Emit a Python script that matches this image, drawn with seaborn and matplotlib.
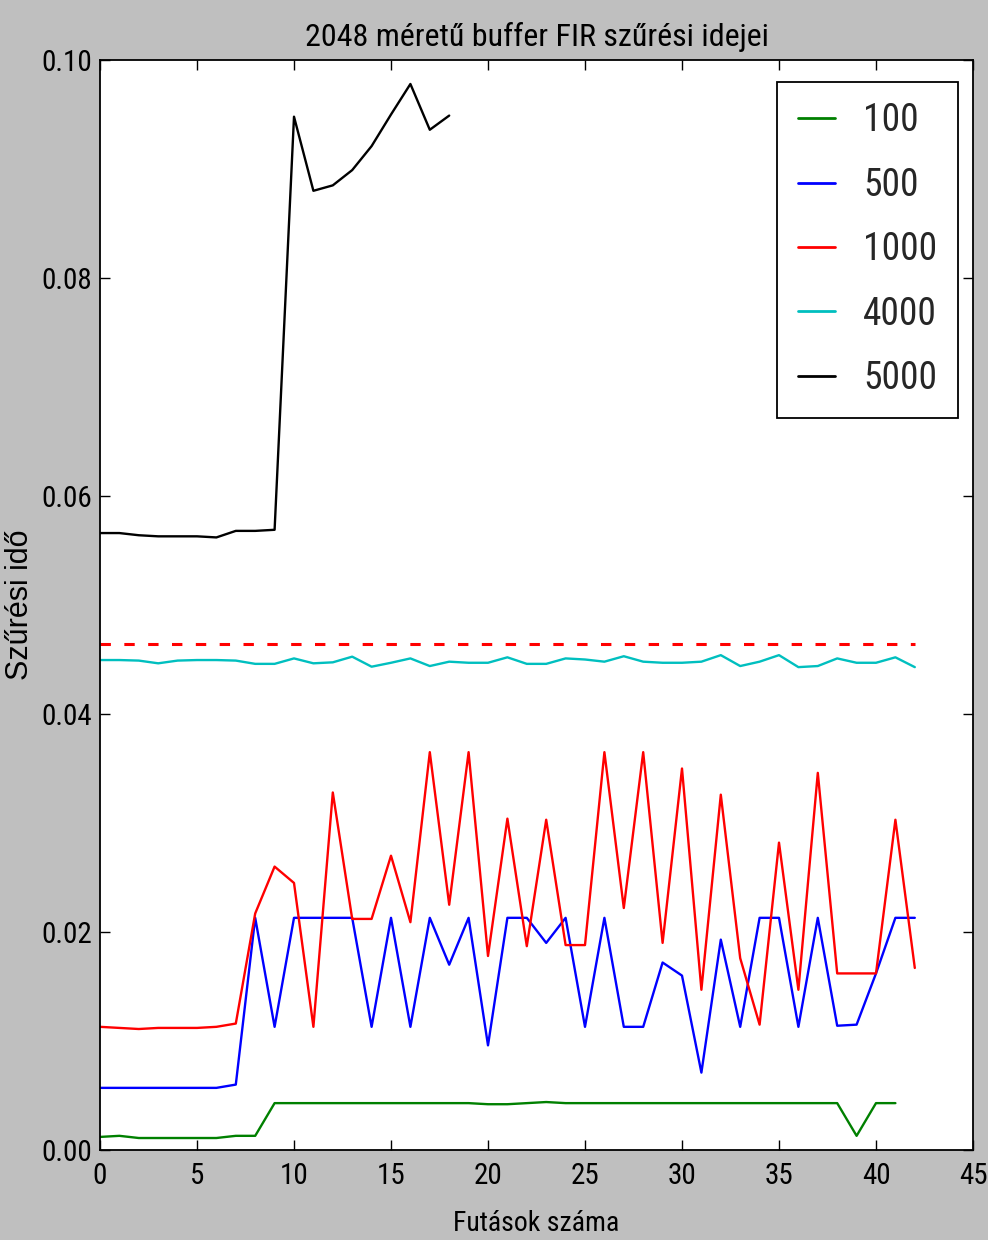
import pandas as pd
import matplotlib
matplotlib.use("Agg")
import matplotlib.pyplot as plt
import seaborn as sns

# measured filter times (seconds) per run, one list per filter length
runs_100 = [0.0012, 0.0013, 0.0011, 0.0011, 0.0011, 0.0011, 0.0011, 0.0013, 0.0013, 0.0043,
            0.0043, 0.0043, 0.0043, 0.0043, 0.0043, 0.0043, 0.0043, 0.0043, 0.0043, 0.0043,
            0.0042, 0.0042, 0.0043, 0.0044, 0.0043, 0.0043, 0.0043, 0.0043, 0.0043, 0.0043,
            0.0043, 0.0043, 0.0043, 0.0043, 0.0043, 0.0043, 0.0043, 0.0043, 0.0043, 0.0013,
            0.0043, 0.0043]
runs_500 = [0.0057, 0.0057, 0.0057, 0.0057, 0.0057, 0.0057, 0.0057, 0.0060, 0.0213, 0.0113,
            0.0213, 0.0213, 0.0213, 0.0213, 0.0113, 0.0213, 0.0113, 0.0213, 0.0170, 0.0213,
            0.0096, 0.0213, 0.0213, 0.0190, 0.0213, 0.0113, 0.0213, 0.0113, 0.0113, 0.0172,
            0.0160, 0.0071, 0.0193, 0.0113, 0.0213, 0.0213, 0.0113, 0.0213, 0.0114, 0.0115,
            0.0162, 0.0213, 0.0213]
runs_1000 = [0.0113, 0.0112, 0.0111, 0.0112, 0.0112, 0.0112, 0.0113, 0.0116, 0.0217, 0.0260,
             0.0245, 0.0113, 0.0328, 0.0212, 0.0212, 0.0270, 0.0209, 0.0365, 0.0225, 0.0365,
             0.0178, 0.0304, 0.0187, 0.0303, 0.0188, 0.0188, 0.0365, 0.0222, 0.0365, 0.0190,
             0.0350, 0.0147, 0.0326, 0.0176, 0.0115, 0.0282, 0.0147, 0.0346, 0.0162, 0.0162,
             0.0162, 0.0303, 0.0167]
runs_4000 = [0.04495, 0.04495, 0.0449, 0.04465, 0.0449, 0.04495, 0.04495, 0.0449, 0.0446, 0.0446,
             0.0451, 0.04465, 0.04474, 0.04526, 0.04434, 0.0447, 0.0451, 0.0444, 0.0448, 0.0447,
             0.0447, 0.0452, 0.0446, 0.0446, 0.0451, 0.0450, 0.0448, 0.0453, 0.0448, 0.0447,
             0.0447, 0.0448, 0.0454, 0.0444, 0.0448, 0.0454, 0.0443, 0.0444, 0.0451, 0.0447,
             0.0447, 0.0452, 0.0443]
runs_5000 = [0.0566, 0.0566, 0.0564, 0.0563, 0.0563, 0.0563, 0.0562, 0.0568, 0.0568, 0.0569,
             0.0948, 0.0880, 0.0885, 0.0899, 0.0921, 0.0950, 0.0978, 0.0936, 0.0949]

labels = ["100", "500", "1000", "4000", "5000"]
colors = ["#008000", "#0000ff", "#ff0000", "#00bfbf", "#000000"]
limit_value = 0.0464
limit_start, limit_end = 0, 42

series = [runs_100, runs_500, runs_1000, runs_4000, runs_5000]
frames = []
for lab, vals in zip(labels, series):
    frames.append(pd.DataFrame({"run": range(len(vals)), "time": vals, "size": lab}))
df = pd.concat(frames, ignore_index=True)

sns.set_theme(style="ticks")
plt.rcParams["font.family"] = ["Roboto Condensed", "Liberation Sans", "DejaVu Sans"]
plt.rcParams["figure.facecolor"] = "#bfbfbf"
plt.rcParams["axes.edgecolor"] = "black"
plt.rcParams["xtick.direction"] = "in"
plt.rcParams["ytick.direction"] = "in"

fig = plt.figure(figsize=(9.88, 12.4), dpi=100)
ax = fig.add_axes([100 / 988, 1 - 1150 / 1240, 873 / 988, 1090 / 1240])
ax.set_facecolor("white")

for lab, col in zip(labels, colors):
    sns.lineplot(data=df[df["size"] == lab], x="run", y="time", color=col, label=lab,
                 linewidth=1.7, estimator=None, sort=False, ax=ax)

ax.hlines(limit_value, limit_start, limit_end, colors="#ff0000", linewidth=2.2,
          linestyles=(0, (3.4, 4.4)))

ax.set_xlim(0, 45)
ax.set_ylim(0, 0.1)
ax.set_xticks(range(0, 46, 5))
ax.set_yticks([0.0, 0.02, 0.04, 0.06, 0.08, 0.10])
ax.set_yticklabels(["0.00", "0.02", "0.04", "0.06", "0.08", "0.10"])
ax.tick_params(axis="both", which="major", top=True, right=True, length=7, width=1,
               color="black", labelsize=21, labelcolor="black")
ax.tick_params(axis="x", pad=9)
ax.tick_params(axis="y", pad=6)
for sp in ax.spines.values():
    sp.set_visible(True)
    sp.set_color("black")
    sp.set_linewidth(1.3)

ax.set_title("2048 méretű buffer FIR szűrési idejei", fontsize=23, pad=10, color="black")
ax.set_xlabel("Futások száma", fontsize=20, labelpad=14, color="black")
ax.set_ylabel("Szűrési idő", fontsize=22, color="black",
              family=["Liberation Sans", "DejaVu Sans"])
ax.yaxis.set_label_coords(-0.075, 0.5)

leg = ax.legend(loc="upper right", bbox_to_anchor=(0.983, 0.98), borderaxespad=0,
                fontsize=27, handlelength=1.0, handletextpad=0.75, borderpad=0.55,
                labelspacing=0.73, fancybox=False, framealpha=1, edgecolor="black")
leg.get_frame().set_linewidth(1.3)
for line in leg.get_lines():
    line.set_linewidth(2)

fig.savefig("out.png", dpi=100, facecolor=fig.get_facecolor())
plt.close(fig)
